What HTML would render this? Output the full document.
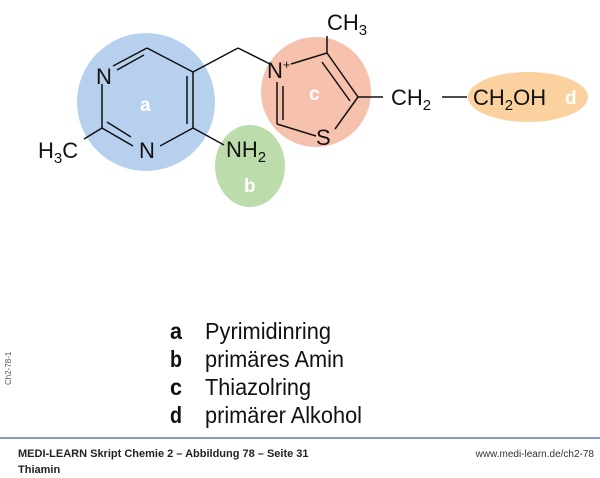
<!DOCTYPE html>
<html><head><meta charset="utf-8"><style>
html,body{margin:0;padding:0;background:#fff;width:600px;height:478px;overflow:hidden}
svg{display:block}
text{font-family:"Liberation Sans",Arial,sans-serif}
</style></head><body>
<svg width="600" height="478" viewBox="0 0 600 478" xmlns="http://www.w3.org/2000/svg">
<circle cx="146" cy="102" r="69" fill="#b7d0ee"/>
<ellipse cx="250" cy="166" rx="35" ry="41" fill="#bcdcac"/>
<circle cx="316" cy="92" r="55" fill="#f6c2ae"/>
<ellipse cx="528" cy="97" rx="60" ry="25" fill="#fbd29f"/>
<g stroke="#111" stroke-width="1.5" fill="none">
<line x1="147" y1="48" x2="193" y2="72"/>
<line x1="193" y1="72" x2="193" y2="128"/>
<line x1="187" y1="76" x2="187" y2="124"/>
<line x1="193" y1="128" x2="160" y2="146"/>
<line x1="147" y1="48" x2="113" y2="66"/>
<line x1="144" y1="55" x2="117" y2="70"/>
<line x1="102" y1="84" x2="102" y2="128"/>
<line x1="102" y1="128" x2="133" y2="146"/>
<line x1="107" y1="122" x2="131" y2="137"/>
<line x1="102" y1="128" x2="84" y2="139"/>
<line x1="193" y1="72" x2="238" y2="48"/>
<line x1="238" y1="48" x2="270" y2="64"/>
<line x1="193" y1="128" x2="224" y2="145"/>
<line x1="291" y1="64" x2="327" y2="53"/>
<line x1="327" y1="53" x2="358" y2="97"/>
<line x1="322" y1="62" x2="350" y2="101"/>
<line x1="327" y1="53" x2="327" y2="36"/>
<line x1="358" y1="97" x2="335" y2="129"/>
<line x1="277" y1="82" x2="277" y2="124"/>
<line x1="283" y1="86" x2="283" y2="120"/>
<line x1="277" y1="124" x2="316" y2="136"/>
<line x1="358" y1="97" x2="383" y2="97"/>
<line x1="442" y1="97" x2="467" y2="97"/>
</g>
<g font-size="22" fill="#111">
<text x="96" y="84">N</text>
<text x="139" y="158">N</text>
<text x="38" y="158">H<tspan font-size="15" dy="5">3</tspan><tspan dy="-5">C</tspan></text>
<text x="226" y="157">NH<tspan font-size="15" dy="5">2</tspan></text>
<text x="267" y="78">N<tspan font-size="13" dy="-9">+</tspan></text>
<text x="327" y="30">CH<tspan font-size="15" dy="5">3</tspan></text>
<text x="316" y="145">S</text>
<text x="391" y="105">CH<tspan font-size="15" dy="5">2</tspan></text>
<text x="473" y="105">CH<tspan font-size="15" dy="5">2</tspan><tspan dy="-5">OH</tspan></text>
</g>
<g font-size="19" font-weight="bold" fill="#fff">
<text x="140" y="111">a</text>
<text x="244" y="192">b</text>
<text x="309" y="100">c</text>
<text x="565" y="104">d</text>
</g>
<g font-size="23" fill="#111">
<text x="170" y="339" font-weight="bold" textLength="12" lengthAdjust="spacingAndGlyphs">a</text>
<text x="205" y="339" textLength="126" lengthAdjust="spacingAndGlyphs">Pyrimidinring</text>
<text x="170" y="367" font-weight="bold" textLength="12" lengthAdjust="spacingAndGlyphs">b</text>
<text x="205" y="367" textLength="139" lengthAdjust="spacingAndGlyphs">primäres Amin</text>
<text x="170" y="395" font-weight="bold" textLength="12" lengthAdjust="spacingAndGlyphs">c</text>
<text x="205" y="395" textLength="106" lengthAdjust="spacingAndGlyphs">Thiazolring</text>
<text x="170" y="423" font-weight="bold" textLength="12" lengthAdjust="spacingAndGlyphs">d</text>
<text x="205" y="423" textLength="157" lengthAdjust="spacingAndGlyphs">primärer Alkohol</text>
</g>
<text x="11" y="385" font-size="8" fill="#555" transform="rotate(-90 11 385)">Ch2-78-1</text>
<line x1="0" y1="438" x2="600" y2="438" stroke="#5a7fb0" stroke-width="1.5"/>
<text x="18" y="457" font-size="11" font-weight="bold" fill="#222">MEDI-LEARN Skript Chemie 2 – Abbildung 78 – Seite 31</text>
<text x="18" y="473" font-size="11" font-weight="bold" fill="#222">Thiamin</text>
<text x="594" y="457" font-size="10" fill="#333" text-anchor="end">www.medi-learn.de/ch2-78</text>
</svg>
</body></html>
